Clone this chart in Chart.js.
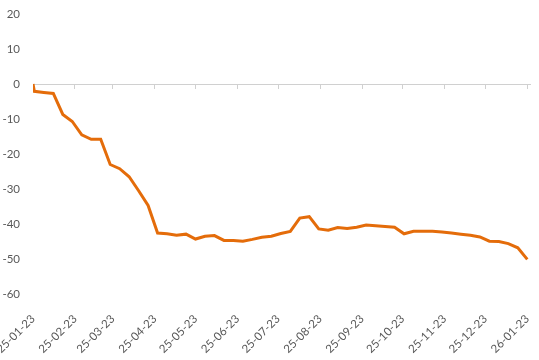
<!DOCTYPE html>
<html>
<head>
<meta charset="utf-8">
<script src="https://cdn.jsdelivr.net/npm/chart.js@4.4.0/dist/chart.umd.min.js"></script>
<style>
  body { margin: 0; background: #fff; }
</style>
</head>
<body>
<canvas id="c" width="539" height="360"></canvas>
<script>
// days since 2025-01-23, one point per week (Fridays) plus the start day
const days = [0, 1, 8, 15, 22, 29, 36, 43, 50, 57, 64, 71, 78, 85, 92, 99, 106, 113, 120, 127,
  134, 141, 148, 155, 162, 169, 176, 183, 190, 197, 204, 211, 218, 225, 232, 239, 246, 253,
  260, 267, 274, 281, 288, 295, 302, 309, 316, 323, 330, 337, 344, 351, 358, 365];
const values = [0, -2.1, -2.4, -2.7, -8.7, -10.7, -14.5, -15.8, -15.8, -23, -24.2, -26.5, -30.5,
  -34.7, -42.6, -42.8, -43.2, -42.9, -44.3, -43.5, -43.3, -44.7, -44.7, -44.9, -44.4, -43.8,
  -43.5, -42.7, -42.1, -38.3, -37.9, -41.4, -41.8, -41.0, -41.3, -40.9, -40.3, -40.5, -40.7,
  -40.9, -42.8, -42.1, -42.1, -42.1, -42.3, -42.6, -42.9, -43.2, -43.7, -44.9, -45.0, -45.6,
  -46.8, -50.1];
const tickDays = [0, 31, 59, 90, 120, 151, 181, 212, 243, 273, 304, 334, 365];
const tickLabels = ['25-01-23', '25-02-23', '25-03-23', '25-04-23', '25-05-23', '25-06-23',
  '25-07-23', '25-08-23', '25-09-23', '25-10-23', '25-11-23', '25-12-23', '26-01-23'];

const font = { family: 'Lato, "Liberation Sans", sans-serif', size: 11.5 };
const setMonthTicks = axis => { axis.ticks = tickDays.map(v => ({ value: v })); };

new Chart(document.getElementById('c').getContext('2d'), {
  type: 'line',
  data: {
    datasets: [{
      data: days.map((d, i) => ({ x: d, y: values[i] })),
      borderColor: '#E46C0A',
      borderWidth: 3,
      pointRadius: 0,
      tension: 0,
      fill: false
    }]
  },
  options: {
    responsive: false,
    animation: false,
    layout: { padding: { top: 14, right: 9, bottom: 0, left: 0 } },
    plugins: { legend: { display: false }, tooltip: { enabled: false } },
    scales: {
      x: {
        type: 'linear',
        min: 0,
        max: 367,
        position: 'bottom',
        grid: { display: false },
        border: { display: false },
        afterBuildTicks: setMonthTicks,
        afterFit: s => { s.paddingLeft = 0; s.paddingRight = 0; s.height = 66; },
        ticks: {
          autoSkip: false,
          minRotation: 45,
          maxRotation: 45,
          color: '#595959',
          font: font,
          padding: 10,
          callback: v => tickLabels[tickDays.indexOf(v)]
        }
      },
      x0: {
        axis: 'x',
        type: 'linear',
        min: 0,
        max: 367,
        position: { y: 0 },
        afterBuildTicks: setMonthTicks,
        ticks: { display: false },
        grid: { drawOnChartArea: false, tickLength: 4, color: '#d0d0d0' },
        border: { color: '#d0d0d0', width: 1 }
      },
      y: {
        min: -60,
        max: 20,
        grid: { display: false, drawTicks: false },
        border: { display: false },
        afterFit: s => { s.width = 33; s.paddingTop = 0; s.paddingBottom = 0; },
        ticks: { stepSize: 10, color: '#595959', font: font, padding: 13 }
      }
    }
  }
});
</script>
</body>
</html>
